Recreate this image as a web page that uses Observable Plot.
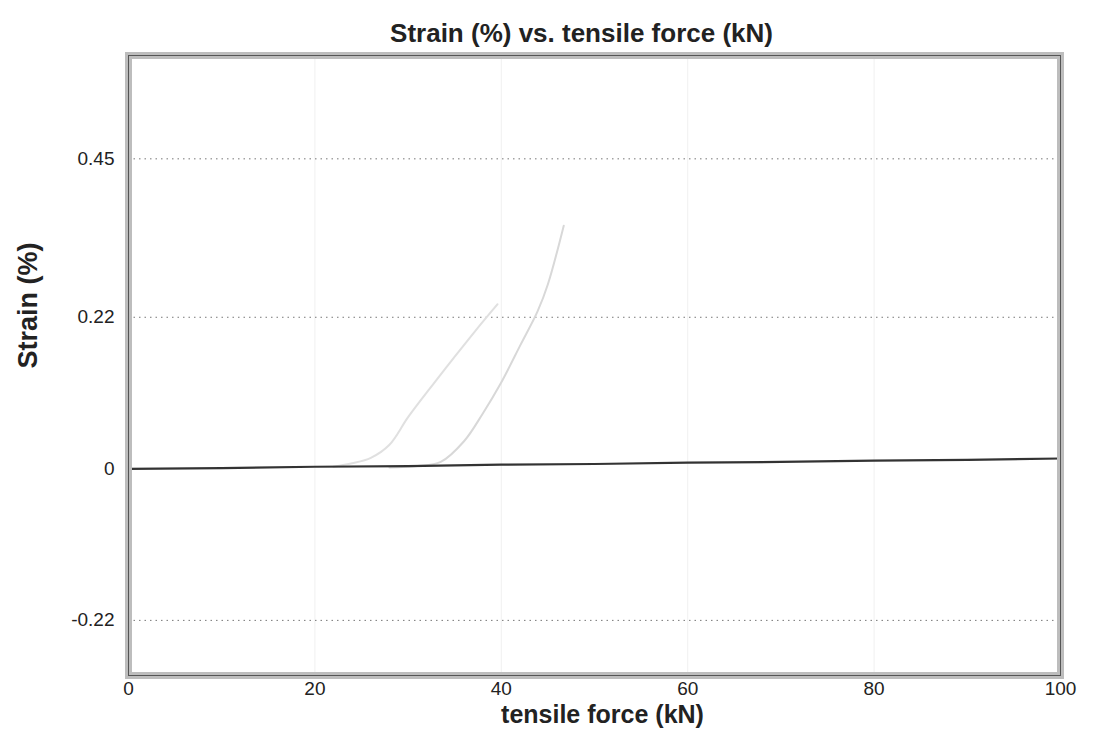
<!DOCTYPE html>
<html>
<head>
<meta charset="utf-8">
<script src="https://cdn.jsdelivr.net/npm/d3@7"></script>
<script src="https://cdn.jsdelivr.net/npm/@observablehq/plot@0.6"></script>
<style>
  html, body { margin: 0; padding: 0; background: #fff; }
  #chart svg { display: block; }
</style>
</head>
<body>
<div id="chart"></div>
<script>
// Chart text
const titleText = "Strain (%) vs. tensile force (kN)";
const xLabel = "tensile force (kN)";
const yLabel = "Strain (%)";

// Tick values
const xTicks = [0, 20, 40, 60, 80, 100];
const yTicks = [-0.22, 0, 0.22, 0.45];

// Main (dark) series
const mainForce  = [0, 10, 20, 30, 40, 50, 60, 70, 80, 90, 100];
const mainStrain = [0, 0.001, 0.003, 0.004, 0.006, 0.007, 0.009, 0.010, 0.012, 0.013, 0.015];

// Faint curve A
const aForce  = [22, 24, 26, 28, 30, 32.7, 34.9, 37.2, 39.6];
const aStrain = [0.003, 0.008, 0.016, 0.035, 0.075, 0.123, 0.161, 0.200, 0.239];

// Faint curve B
const bForce  = [28, 31, 33.5, 36, 38, 39.9, 42.1, 43.9, 45.0, 46.7];
const bStrain = [0.002, 0.004, 0.010, 0.040, 0.080, 0.123, 0.181, 0.229, 0.268, 0.353];

const toRows = (xs, ys) => xs.map((x, i) => ({x, y: ys[i]}));
const mainData = toRows(mainForce, mainStrain);
const aData = toRows(aForce, aStrain);
const bData = toRows(bForce, bStrain);

const font = "'Liberation Sans', Arial, sans-serif";

const chart = Plot.plot({
  width: 1095,
  height: 733,
  marginLeft: 128,
  marginRight: 35,
  marginTop: 55,
  marginBottom: 58,
  style: {fontFamily: font, fontSize: "19px", color: "#222", background: "#fff"},
  x: {domain: [0, 100], ticks: xTicks, tickSize: 0, tickPadding: 6, label: null},
  y: {domain: [-0.3, 0.6], ticks: yTicks, tickSize: 0, tickPadding: 14, label: null, tickFormat: d => String(d)},
  marks: [
    Plot.ruleX(xTicks.slice(1, -1), {stroke: "#f0f0f0", strokeWidth: 1}),
    Plot.ruleY(yTicks.filter(d => d !== 0), {stroke: "#555", strokeWidth: 1, strokeDasharray: "1.5,4", strokeOpacity: 0.8}),
    Plot.line(aData, {x: "x", y: "y", stroke: "#e0e0e0", strokeWidth: 2, curve: "catmull-rom"}),
    Plot.line(bData, {x: "x", y: "y", stroke: "#d8d8d8", strokeWidth: 2, curve: "catmull-rom"}),
    Plot.line(mainData, {x: "x", y: "y", stroke: "#333", strokeWidth: 2.2}),
    Plot.frame({stroke: "#bdbdbd", strokeWidth: 7}),
    Plot.frame({stroke: "#555", strokeWidth: 1}),
    Plot.axisX({ticks: xTicks, tickSize: 0, tickPadding: 6, fontSize: 19, label: null}),
    Plot.axisY({ticks: yTicks, tickSize: 0, tickPadding: 14, fontSize: 19, label: null, tickFormat: d => String(d)}),
    Plot.text([titleText], {frameAnchor: "top", dy: -32, fontSize: 26, fontWeight: "bold", fill: "#222", dx: -13}),
    Plot.text([xLabel], {frameAnchor: "bottom", dy: 47, fontSize: 25, fontWeight: "bold", fill: "#222", dx: 8}),
    Plot.text([yLabel], {frameAnchor: "left", dx: -100, rotate: -90, fontSize: 27, fontWeight: "bold", fill: "#222", dy: 3})
  ]
});
document.getElementById("chart").appendChild(chart);
</script>
</body>
</html>
